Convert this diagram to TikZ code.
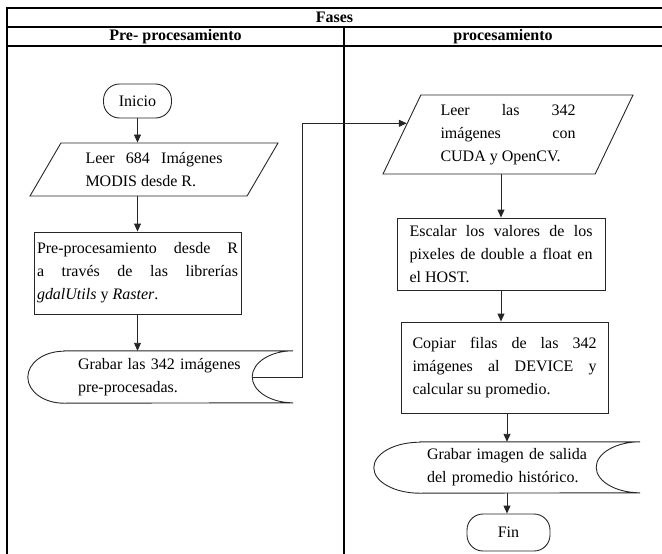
\documentclass[tikz,border=0pt]{standalone}
\usepackage{fontspec}
\setmainfont{Liberation Serif}
\usetikzlibrary{arrows.meta,shapes.geometric,calc}

% Outline of a "stored data" symbol around a plain node:
% #1 node name, #2 radius of the left bulge, #3 radius of the right notch, #4 half height
\newcommand{\storageoutline}[4]{%
  \draw[ln] ([xshift=#2]#1.north west) -- (#1.north east)
    arc[start angle=90, end angle=270, x radius=#3, y radius=#4]
    -- ([xshift=#2]#1.south west)
    arc[start angle=270, end angle=90, x radius=#2, y radius=#4] -- cycle;}

\begin{document}
\begin{tikzpicture}[x=1pt,y=1pt,
  font=\fontsize{16}{23}\selectfont,
  ln/.style={line width=0.9pt, draw=black!85},
  arr/.style={ln, -{Triangle[length=8pt,width=7pt]}},
  grid/.style={line width=1.3pt, draw=black},
  terminal/.style={ln, rectangle, rounded corners=16pt, inner sep=0pt},
  io/.style={ln, trapezium, trapezium stretches body, inner sep=0pt, align=justify},
  procbox/.style={ln, rectangle, inner sep=0pt, align=justify},
  store/.style={rectangle, inner sep=0pt, align=left},
  head/.style={font=\fontsize{16}{23}\selectfont\bfseries}
]
\useasboundingbox (0,0) rectangle (662,-554);

% table frame
\draw[grid] (662,-8) -- (7,-8) -- (7,-554);
\draw[grid] (7,-27) -- (662,-27) (7,-46) -- (662,-46) (344,-27) -- (344,-554);

\node[head] (fases) at (334.5,-17.5) {Fases};
\node[head] (hpre) at (175.5,-36.5) {Pre- procesamiento};
\node[head] (hproc) at (503,-36.5) {procesamiento};

% left column
\node[terminal, minimum width=68pt, minimum height=34pt] (inicio) at (137.5,-101) {Inicio};
\node[io, trapezium left angle=48, trapezium right angle=132,
      minimum width=248pt, minimum height=53pt, text width=137pt] (leer1) at (154,-169.5)
  {Leer 684 Imágenes\linebreak MODIS desde R.};
\node[procbox, minimum width=207pt, minimum height=82pt, text width=201pt] (prep) at (137.5,-273)
  {Pre-procesamiento desde R\linebreak a través de las librerías\linebreak \textit{gdalUtils} y \textit{Raster}.};
\node[store, minimum width=265pt, minimum height=52pt, text width=165pt] (grab1) at (160.5,-377)
  {Grabar las 342 imágenes\\ pre-procesadas.};
\storageoutline{grab1}{36pt}{41pt}{26pt}

% right column
\node[io, trapezium left angle=58, trapezium right angle=122,
      minimum width=250pt, minimum height=79pt, text width=135pt] (leer2) at (508,-134.5)
  {Leer las 342\linebreak imágenes con\linebreak CUDA y OpenCV.};
\node[procbox, minimum width=208pt, minimum height=72pt, text width=183pt] (escal) at (501,-254)
  {Escalar los valores de los\linebreak pixeles de double a float en\linebreak el HOST.};
\node[procbox, minimum width=207pt, minimum height=91pt, text width=184pt] (copiar) at (504.5,-367.5)
  {Copiar filas de las 342\linebreak imágenes al DEVICE y\linebreak calcular su promedio.};
\node[store, minimum width=266pt, minimum height=51pt, text width=160pt] (grab2) at (507,-467.5)
  {Grabar imagen de salida\\ del promedio histórico.};
\storageoutline{grab2}{46pt}{44pt}{25.5pt}
\node[terminal, minimum width=83pt, minimum height=37pt] (fin) at (508.5,-532.5) {Fin};

% connectors
\coordinate (bend) at (302,0);
\coordinate (leer2in) at ($(leer2.bottom left corner)!0.64!(leer2.top left corner)$);
\draw[arr] (inicio) -- (inicio |- leer1.north);
\draw[arr] (leer1.south -| prep) -- (prep.north);
\draw[arr] (prep) -- (prep |- grab1.north);
\draw[arr] ([xshift=-41pt]grab1.east) -| (bend |- leer2in) -- (leer2in);
\draw[arr] (leer2.south -| escal) -- (escal.north);
\draw[arr] (escal) -- (escal |- copiar.north);
\draw[arr] (copiar.south -| grab2) -- (grab2.north);
\draw[arr] (grab2) -- (grab2 |- fin.north);
\end{tikzpicture}
\end{document}
